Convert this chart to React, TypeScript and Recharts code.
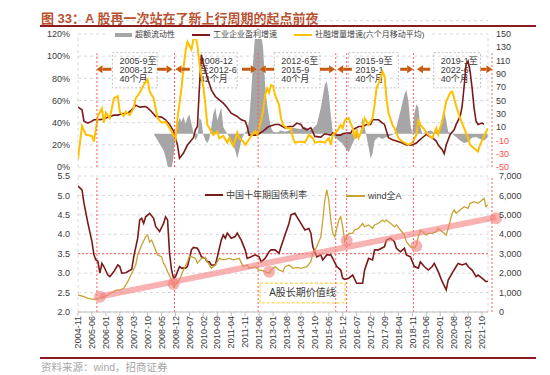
import React from "react";
import {
  Area,
  CartesianGrid,
  ComposedChart,
  Line,
  ReferenceArea,
  ReferenceDot,
  ReferenceLine,
  XAxis,
  YAxis,
} from "recharts";

// all x values are months counted from 2004-11 (= 0)
const dateLabels = [
  "2004-11", "2005-06", "2006-01", "2006-08", "2007-03", "2007-10",
  "2008-05", "2008-12", "2009-07", "2010-02", "2010-09", "2011-04",
  "2011-11", "2012-06", "2013-01", "2013-08", "2014-03", "2014-10",
  "2015-05", "2015-12", "2016-07", "2017-02", "2017-09", "2018-04",
  "2018-11", "2019-06", "2020-01", "2020-08", "2021-03", "2021-10",
];
const dateTicks = dateLabels.map((_, i) => i * 7);

// top panel
const socialFinancing: [number, number][] = [
  [0, 7], [2, 37], [4, 29], [7, 28], [8, 23], [10, 46], [12, 53], [13, 40], [14, 49], [16, 44],
  [18, 62], [20, 64], [21, 50], [23, 46], [24, 50], [26, 47], [28, 53], [29, 62], [31, 67], [33, 74],
  [35, 79], [36, 68], [38, 62], [39, 53], [40, 44], [42, 40], [44, 41], [45, 38], [47, 32], [49, 25],
  [50, 44], [52, 71], [53, 89], [54, 104], [55, 113], [57, 106], [58, 115], [59, 118], [60, 110], [61, 94],
  [62, 82], [63, 72], [64, 56], [65, 38], [66, 35], [68, 29], [70, 32], [71, 26], [73, 28], [75, 22],
  [76, 26], [78, 19], [80, 31], [81, 26], [83, 23], [84, 20], [86, 25], [87, 28], [89, 32], [90, 29],
  [91, 35], [93, 50], [94, 65], [95, 71], [96, 67], [97, 74], [98, 73], [99, 65], [101, 56], [102, 44],
  [103, 38], [105, 35], [107, 35], [108, 26], [109, 22], [112, 23], [114, 22], [116, 29], [118, 26], [119, 22],
  [122, 23], [124, 22], [126, 26], [127, 20], [128, 29], [130, 32], [132, 38], [133, 35], [134, 42], [136, 44],
  [138, 35], [139, 26], [140, 34], [141, 26], [143, 35], [144, 44], [146, 38], [148, 44], [149, 56], [150, 71],
  [152, 80], [153, 86], [154, 82], [155, 62], [156, 49], [158, 38], [159, 35], [161, 26], [163, 23], [164, 22],
  [166, 20], [168, 22], [170, 29], [171, 42], [172, 38], [174, 34], [176, 29], [178, 26], [180, 35], [181, 29],
  [183, 41], [184, 50], [185, 59], [187, 67], [188, 68], [189, 62], [190, 55], [192, 44], [194, 35], [196, 26],
  [197, 20], [199, 17], [201, 14], [202, 20], [204, 28], [206, 35],
];

const industrialProfit: [number, number][] = [
  [0, 40], [2, 36], [3, 19], [5, 16], [7, 19], [8, 21], [10, 21], [13, 22], [15, 25], [18, 28],
  [20, 28], [22, 30], [25, 31], [27, 36], [29, 43], [31, 40], [34, 41], [35, 39], [37, 33], [39, 26],
  [40, 26], [42, 25], [44, 21], [46, 14], [48, 4], [50, -17], [51, -37], [53, -29], [55, -17], [58, -6],
  [59, 6], [60, 11], [61, 70], [62, 119], [63, 105], [64, 96], [65, 84], [67, 66], [69, 56], [71, 51],
  [73, 46], [75, 39], [77, 31], [80, 26], [82, 21], [84, 19], [85, 11], [86, -2], [88, -2], [90, -2],
  [91, 0], [93, 4], [95, 9], [96, 11], [99, 14], [101, 14], [104, 9], [106, 11], [108, 11], [110, 16],
  [112, 14], [113, 9], [115, 6], [117, 9], [119, -4], [122, -5], [124, 0], [127, -2], [128, 1], [130, -2],
  [132, -2], [133, 0], [135, 1], [137, 1], [138, 6], [141, 11], [143, 11], [145, 14], [147, 14], [148, 21],
  [151, 21], [153, 16], [154, 14], [156, -6], [158, -9], [160, -11], [163, -14], [165, -17], [168, -17], [170, -14],
  [171, -11], [173, -6], [175, -1], [176, -3], [178, -6], [180, -11], [181, -17], [183, -24], [184, -30], [185, -17],
  [187, -1], [189, 6], [190, 14], [192, 26], [193, 41], [194, 71], [195, 104], [196, 109], [197, 94], [198, 69],
  [199, 39], [200, 19], [201, 14], [203, 16], [204, 14],
];

const excessLiquidity: [number, number][] = [
  [38, 0], [39, -5], [41, -15], [43, -25], [44, -35], [45, -48], [46, -52], [47, -52], [48, -35], [49, 0],
  [50, 14], [51, 24], [52, 18], [53, 26], [54, 15], [55, 24], [56, 29], [57, 15], [58, 2], [59, -10],
  [60, -5], [61, 24], [62, 20], [63, -2], [64, -10], [65, -14], [66, -8], [67, 10], [68, 30], [69, 39],
  [70, 20], [71, 30], [72, 39], [73, 10], [74, 5], [75, 0], [77, -10], [79, -25], [80, -37], [81, -25],
  [82, -10], [83, -3], [84, 2], [85, 5], [86, 20], [87, 60], [88, 109], [89, 149], [90, 158], [91, 158],
  [92, 150], [93, 129], [94, 74], [95, 44], [96, 24], [97, 9], [98, 3], [100, 2], [102, 5], [104, 3],
  [106, 5], [108, 9], [110, 8], [112, 7], [114, 11], [116, 5], [118, 8], [120, 14], [122, 39], [124, 74],
  [125, 79], [126, 59], [127, 29], [128, 2], [129, -5], [131, -10], [133, -15], [134, -20], [136, -28], [137, -21],
  [139, -8], [141, -5], [142, 5], [143, 24], [144, 10], [145, -5], [146, -20], [147, -37], [148, -30], [149, -10],
  [151, -5], [153, -8], [155, -5], [157, -3], [159, 0], [160, 10], [162, 34], [164, 59], [165, 66], [166, 49],
  [167, 14], [168, 0], [169, 30], [170, 44], [171, 40], [172, 10], [173, 0], [175, 3], [177, 5], [179, 2],
  [181, 5], [182, 10], [183, 25], [184, 36], [185, 20], [186, 3], [188, 0], [190, -5], [192, -10], [194, -14],
  [196, -12], [198, -6], [200, -5], [202, -8], [204, -10], [206, -5],
];

// bottom panel
const bondYield: [number, number][] = [
  [0, 5.24], [2, 5.14], [3, 4.8], [5, 4.28], [7, 3.81], [8, 3.47], [9, 3.34], [10, 3.3], [11, 3.0], [12, 3.25],
  [13, 3.17], [15, 2.95], [16, 2.91], [18, 3.04], [20, 3.21], [21, 3.17], [22, 3.0], [24, 3.01], [27, 3.1], [28, 3.42],
  [30, 3.9], [31, 4.37], [32, 4.41], [33, 4.28], [34, 4.45], [36, 4.54], [38, 4.41], [39, 4.2], [41, 4.07], [43, 4.28],
  [44, 4.45], [45, 4.37], [46, 3.51], [47, 3.08], [48, 2.87], [49, 2.91], [51, 3.17], [52, 3.13], [54, 3.13], [55, 3.17],
  [56, 3.38], [57, 3.6], [58, 3.66], [60, 3.64], [61, 3.55], [62, 3.42], [64, 3.38], [65, 3.29], [66, 3.29], [67, 3.21],
  [69, 3.21], [70, 3.42], [72, 3.85], [73, 3.98], [74, 3.9], [75, 4.03], [77, 3.9], [79, 3.94], [80, 4.03], [82, 3.85],
  [84, 3.6], [85, 3.38], [87, 3.42], [89, 3.47], [91, 3.42], [92, 3.29], [94, 3.38], [96, 3.55], [97, 3.6], [99, 3.6],
  [101, 3.51], [102, 3.68], [104, 3.98], [106, 4.28], [107, 4.5], [109, 4.54], [110, 4.45], [112, 4.28], [114, 4.11], [116, 4.15],
  [117, 4.03], [118, 3.68], [120, 3.42], [122, 3.47], [123, 3.34], [125, 3.47], [127, 3.47], [128, 3.38], [130, 3.17], [132, 3.08],
  [133, 2.87], [134, 2.84], [136, 2.87], [138, 2.95], [140, 2.74], [143, 2.74], [144, 3.08], [146, 3.38], [148, 3.34], [149, 3.6],
  [151, 3.6], [154, 3.68], [155, 3.85], [157, 3.9], [159, 3.81], [160, 3.64], [162, 3.55], [164, 3.64], [165, 3.47], [167, 3.42],
  [169, 3.17], [171, 3.13], [172, 3.29], [174, 3.17], [176, 3.08], [178, 3.17], [179, 3.25], [181, 3.04], [183, 2.78], [185, 2.57],
  [186, 2.82], [188, 3.0], [190, 3.17], [191, 3.25], [193, 3.21], [195, 3.25], [196, 3.17], [198, 3.08], [200, 2.91], [201, 2.95],
  [203, 2.87], [205, 2.78], [206, 2.79],
];

const windA: [number, number][] = [
  [0, 875], [3, 790], [5, 700], [8, 650], [10, 700], [13, 790], [15, 875], [18, 1045], [19, 1130], [21, 1130],
  [23, 1220], [25, 1560], [27, 1990], [29, 2420], [30, 2935], [32, 3450], [34, 3875], [35, 3960], [36, 3600], [37, 3700],
  [38, 3450], [39, 3190], [40, 2935], [42, 2850], [43, 2505], [44, 2335], [45, 2075], [47, 1650], [48, 1300], [49, 1390],
  [51, 1650], [53, 2160], [55, 2590], [56, 2880], [57, 2850], [59, 2760], [60, 2505], [62, 2760], [64, 2800], [65, 2590],
  [67, 2250], [69, 2420], [71, 2760], [73, 2680], [76, 2760], [78, 2680], [81, 2760], [83, 2335], [85, 2420], [86, 2250],
  [89, 2335], [91, 2160], [92, 2160], [94, 2075], [96, 1990], [97, 2160], [99, 2335], [101, 2160], [103, 2075], [104, 2335],
  [106, 2420], [108, 2250], [110, 2300], [112, 2250], [115, 2335], [117, 2590], [118, 3020], [120, 3360], [122, 3875], [123, 4735],
  [124, 5765], [125, 6280], [126, 5765], [127, 4735], [128, 4050], [129, 3875], [130, 4290], [131, 4735], [132, 4905], [133, 4390],
  [134, 3620], [135, 3875], [136, 4050], [138, 4050], [139, 4220], [141, 4305], [143, 4565], [144, 4390], [146, 4480], [148, 4305],
  [149, 4480], [151, 4565], [153, 4735], [154, 4650], [155, 4735], [157, 4565], [159, 4390], [160, 4480], [162, 4220], [164, 3960],
  [165, 3620], [167, 3360], [169, 3280], [170, 3450], [171, 3875], [172, 4220], [173, 4135], [175, 3960], [176, 4050], [178, 4050],
  [180, 4135], [181, 4305], [183, 4135], [185, 3960], [186, 4305], [188, 5080], [189, 5250], [190, 5080], [192, 5250], [194, 5420],
  [196, 5335], [197, 5595], [199, 5680], [201, 5595], [202, 5680], [204, 5850], [205, 5420], [206, 5510],
];

// A股长期价值线 (wind全A scale) and the cycle bottoms that touch it
const valueLine: [number, number][] = [[11, 800], [210, 4880]];
const valueTouches: [number, number][] = [[11, 790], [48, 1440], [96, 2075], [135, 3670], [170, 3400], [210, 4820]];

// cycle boundaries and annotations
const cycleLines = [9.5, 48.5, 90.5, 129.5, 135, 168.5, 208];
const cycleArrows: [number, number][] = [
  [16.8, 9.3], [39.8, 47.5], [56.2, 49], [82.4, 89.8], [98.5, 91.3],
  [121.6, 129.2], [137.6, 130.2], [161.9, 168.4], [177, 170.3], [202.2, 208.2],
];
const cycleBoxes = [
  { from: 17.3, to: 39.8, text: ["2005-9至", "2008-12", "40个月"] },
  { from: 57.6, to: 80, text: ["2008-12", "至2012-6", "42个月"] },
  { from: 98.6, to: 121.6, text: ["2012-6至", "2015-9", "40个月"] },
  { from: 135.9, to: 161, text: ["2015-9至", "2019-1", "40个月"] },
  { from: 178.7, to: 202.2, text: ["2019-1至", "2022-6", "40个月"] },
];

const FONT = '"Liberation Sans", Arial, "Noto Sans CJK SC", sans-serif';
const AXIS_TEXT = "#3a3a3a";
const GRID = "#d9d9d9";
const MAROON = "#7a1a1a";
const YELLOW = "#ffc000";
const GOLD = "#c9a232";
const GRAY = "#a6a6a6";
const RED_DOT = "#ff5a5a";
const ARROW = "#c55a11";
const PINK = "#f47f7f";
const TITLE = "#b9502f";
const RULE = "#8b1c1c";

const pts = (arr: [number, number][]) => arr.map(([m, v]) => ({ m, v }));
const X_DOMAIN: [number, number] = [0, 206];

function arrowShape(props: any) {
  const { x1, y1, x2, y2 } = props;
  const dir = x2 >= x1 ? 1 : -1;
  const bx = x2 - dir * 6;
  return (
    <g>
      <line x1={x1} y1={y1} x2={bx} y2={y2} stroke={ARROW} strokeWidth={3} />
      <polygon points={`${x2},${y2} ${bx},${y2 - 4} ${bx},${y2 + 4}`} fill={ARROW} />
    </g>
  );
}

const boxText = (lines: string[]) => (props: any) => {
  const { x, y } = props.viewBox;
  return (
    <text x={x + 7} y={y + 11} fontSize={9} fill={AXIS_TEXT} fontFamily={FONT}>
      {lines.map((t, i) => (
        <tspan key={i} x={x + 7} dy={i === 0 ? 0 : 9}>
          {t}
        </tspan>
      ))}
    </text>
  );
};

const centerText = (label: string) => (props: any) => {
  const { x, y, width, height } = props.viewBox;
  return (
    <text x={x + width / 2} y={y + height / 2} dy="0.35em" textAnchor="middle" fontSize={10} fill={AXIS_TEXT} fontFamily={FONT}>
      {label}
    </text>
  );
};

function PctTick({ x, y, payload }: any) {
  return (
    <text x={x} y={y} dy="0.355em" textAnchor="end" fontSize={9} fill={AXIS_TEXT} fontFamily={FONT}>
      {`${payload.value}%`}
    </text>
  );
}

function RightTopTick({ x, y, payload }: any) {
  return (
    <text x={x} y={y} dy="0.355em" textAnchor="start" fontSize={9} fill={payload.value < 0 ? "#ff4b4b" : AXIS_TEXT} fontFamily={FONT}>
      {payload.value}
    </text>
  );
}

function YieldTick({ x, y, payload }: any) {
  return (
    <text x={x} y={y} dy="0.355em" textAnchor="end" fontSize={9} fill={AXIS_TEXT} fontFamily={FONT}>
      {Number(payload.value).toFixed(1)}
    </text>
  );
}

function IndexTick({ x, y, payload }: any) {
  return (
    <text x={x} y={y} dy="0.355em" textAnchor="start" fontSize={9} fill={AXIS_TEXT} fontFamily={FONT}>
      {Number(payload.value).toLocaleString("en-US")}
    </text>
  );
}

function DateTick({ x, y, payload }: any) {
  const label = dateLabels[Math.round(payload.value / 7)];
  return (
    <text x={x} y={y} transform={`rotate(-90 ${x} ${y})`} dy="0.35em" textAnchor="end" fontSize={9} fill={AXIS_TEXT} fontFamily={FONT}>
      {label}
    </text>
  );
}

function TopChart() {
  return (
    <ComposedChart width={550} height={375} margin={{ top: 20.7, right: 12, bottom: 208, left: 0 }}>
      <CartesianGrid yAxisId="L" vertical={false} stroke={GRID} strokeDasharray="3 3" />
      <XAxis xAxisId={0} dataKey="m" type="number" domain={X_DOMAIN} allowDataOverflow hide />
      <YAxis
        yAxisId="L"
        domain={[0, 132]}
        ticks={[0, 20, 40, 60, 80, 100, 120]}
        interval={0}
        allowDataOverflow
        width={78}
        axisLine={false}
        tickLine={false}
        tick={PctTick}
      />
      <YAxis
        yAxisId="R"
        orientation="right"
        domain={[-50, 170]}
        ticks={[-50, -30, -10, 10, 30, 50, 70, 90, 110, 130, 150]}
        interval={0}
        allowDataOverflow
        width={50}
        axisLine={false}
        tickLine={false}
        tick={RightTopTick}
      />
      {[0, 206].map((m) => (
        <ReferenceLine key={`b${m}`} yAxisId="R" segment={[{ x: m, y: -50 }, { x: m, y: 150 }]} stroke={GRID} strokeDasharray="3 3" ifOverflow="visible" />
      ))}
      <Area
        yAxisId="R"
        data={pts(excessLiquidity)}
        dataKey="v"
        type="linear"
        baseValue={0}
        stroke="none"
        fill={GRAY}
        fillOpacity={1}
        isAnimationActive={false}
      />
      <Line yAxisId="R" data={pts(industrialProfit)} dataKey="v" type="linear" stroke={MAROON} strokeWidth={1.6} dot={false} isAnimationActive={false} />
      <Line yAxisId="L" data={pts(socialFinancing)} dataKey="v" type="linear" stroke={YELLOW} strokeWidth={2} dot={false} isAnimationActive={false} />
      {cycleLines.map((m) => (
        <ReferenceLine key={`c${m}`} yAxisId="R" segment={[{ x: m, y: -50 }, { x: m, y: 121 }]} stroke={RED_DOT} strokeDasharray="2 2" ifOverflow="visible" />
      ))}
      {cycleBoxes.map((b) => (
        <ReferenceArea
          key={b.from}
          yAxisId="R"
          x1={b.from}
          x2={b.to}
          y1={69}
          y2={122}
          fill="none"
          fillOpacity={0}
          stroke="#bfbfbf"
          strokeDasharray="2 2"
          ifOverflow="visible"
          label={boxText(b.text)}
        />
      ))}
      {cycleArrows.map(([tail, head]) => (
        <ReferenceLine key={`a${tail}`} yAxisId="R" segment={[{ x: tail, y: 97 }, { x: head, y: 97 }]} shape={arrowShape} ifOverflow="visible" />
      ))}
    </ComposedChart>
  );
}

function BottomChart() {
  return (
    <ComposedChart width={550} height={375} margin={{ top: 176, right: 12, bottom: 18, left: 0 }}>
      <CartesianGrid yAxisId="L" vertical={false} stroke={GRID} strokeDasharray="3 3" />
      <XAxis
        xAxisId={0}
        dataKey="m"
        type="number"
        domain={X_DOMAIN}
        allowDataOverflow
        ticks={dateTicks}
        interval={0}
        height={45}
        tickSize={4}
        tickMargin={0}
        stroke="#bfbfbf"
        tick={DateTick}
      />
      <YAxis
        yAxisId="L"
        domain={[2, 5.5]}
        ticks={[2, 2.5, 3, 3.5, 4, 4.5, 5, 5.5]}
        interval={0}
        allowDataOverflow
        width={78}
        axisLine={false}
        tickLine={false}
        tick={YieldTick}
      />
      <YAxis
        yAxisId="R"
        orientation="right"
        domain={[0, 7000]}
        ticks={[0, 1000, 2000, 3000, 4000, 5000, 6000, 7000]}
        interval={0}
        allowDataOverflow
        width={50}
        axisLine={false}
        tickLine={false}
        tickMargin={5}
        tick={IndexTick}
      />
      {[0, 206].map((m) => (
        <ReferenceLine key={`b${m}`} yAxisId="L" x={m} stroke={GRID} strokeDasharray="3 3" />
      ))}
      <ReferenceLine yAxisId="L" y={3.5} stroke={RED_DOT} strokeDasharray="2 2" />
      {cycleLines.map((m) => (
        <ReferenceLine key={`c${m}`} yAxisId="L" segment={[{ x: m, y: 2 }, { x: m, y: 5.5 }]} stroke={RED_DOT} strokeDasharray="2 2" ifOverflow="visible" />
      ))}
      <ReferenceArea
        yAxisId="R"
        x1={91.4}
        x2={134.2}
        y1={480}
        y2={1477}
        fill="none"
        fillOpacity={0}
        stroke="#ffd966"
        strokeWidth={1.5}
        strokeDasharray="3 2"
        label={centerText("A股长期价值线")}
      />
      <Line yAxisId="L" data={pts(bondYield)} dataKey="v" type="linear" stroke={MAROON} strokeWidth={1.6} dot={false} isAnimationActive={false} />
      <Line yAxisId="R" data={pts(windA)} dataKey="v" type="linear" stroke={GOLD} strokeWidth={1.3} dot={false} isAnimationActive={false} />
      <ReferenceLine
        yAxisId="R"
        segment={valueLine.map(([m, v]) => ({ x: m, y: v }))}
        stroke={PINK}
        strokeOpacity={0.6}
        strokeWidth={6}
        ifOverflow="visible"
      />
      {valueTouches.map(([m, v]) => (
        <ReferenceDot key={`d${m}`} yAxisId="R" x={m} y={v} r={6} fill={PINK} fillOpacity={0.6} stroke="none" ifOverflow="visible" />
      ))}
    </ComposedChart>
  );
}

const legendText = {
  position: "absolute",
  fontSize: 8,
  lineHeight: "10px",
  color: "#404040",
  whiteSpace: "nowrap",
} as const;

export default function App() {
  return (
    <div
      style={{
        position: "absolute",
        left: 0,
        top: 0,
        width: 550,
        height: 375,
        background: "#fff",
        overflow: "hidden",
        fontFamily: FONT,
      }}
    >
      <div style={{ position: "absolute", left: 41, top: 10, fontSize: 13, lineHeight: "17px", fontWeight: 700, color: TITLE, whiteSpace: "nowrap" }}>
        图 33：A 股再一次站在了新上行周期的起点前夜
      </div>
      <div style={{ position: "absolute", left: 40, top: 25, width: 496, height: 2, background: RULE }} />

      <div style={{ position: "absolute", left: 0, top: 0 }}>
        <TopChart />
      </div>
      <div style={{ position: "absolute", left: 0, top: 0 }}>
        <BottomChart />
      </div>

      {/* top legend */}
      <div style={{ position: "absolute", left: 108, top: 30, width: 322, height: 9, background: "#fff" }} />
      <div style={{ position: "absolute", left: 115, top: 32.5, width: 17, height: 4, background: GRAY }} />
      <div style={{ ...legendText, left: 135, top: 29.5 }}>超额流动性</div>
      <div style={{ position: "absolute", left: 192, top: 33.5, width: 18, height: 2, background: MAROON }} />
      <div style={{ ...legendText, left: 213, top: 29.5 }}>工业企业盈利增速</div>
      <div style={{ position: "absolute", left: 294, top: 33.5, width: 18, height: 2, background: YELLOW }} />
      <div style={{ ...legendText, left: 315, top: 29.5 }}>社融增量增速(六个月移动平均)</div>

      {/* bottom legend */}
      <div style={{ position: "absolute", left: 205, top: 194, width: 18, height: 2, background: MAROON }} />
      <div style={{ ...legendText, fontSize: 9, left: 226, top: 190 }}>中国十年期国债利率</div>
      <div style={{ position: "absolute", left: 346, top: 195, width: 19, height: 2, background: GOLD }} />
      <div style={{ ...legendText, fontSize: 9, left: 368, top: 191 }}>wind全A</div>

      <div style={{ position: "absolute", left: 40, top: 357, width: 496, height: 2, background: RULE }} />
      <div style={{ position: "absolute", left: 41, top: 360, fontSize: 10.5, lineHeight: "14px", color: "#a6a6a6", whiteSpace: "nowrap" }}>
        资料来源：wind，招商证券
      </div>
    </div>
  );
}
